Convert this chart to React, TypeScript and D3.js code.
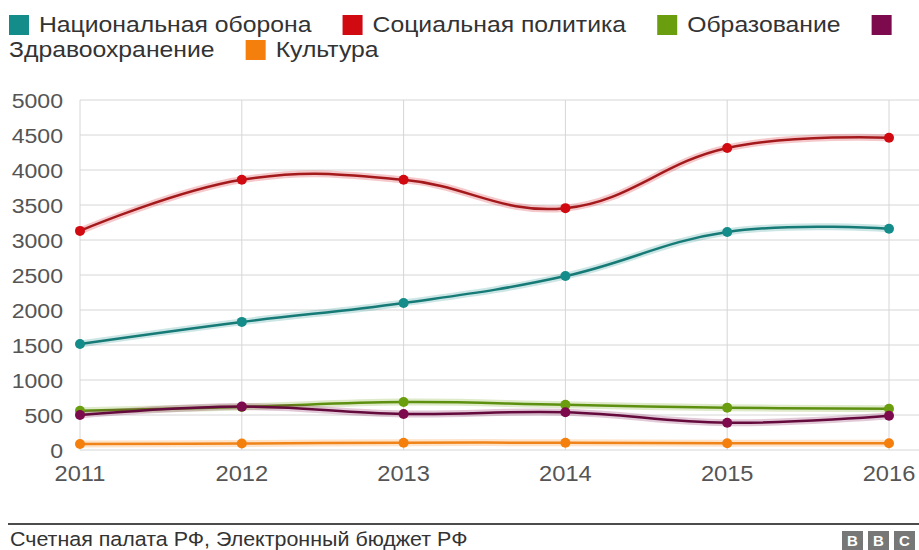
import React, { useEffect, useRef } from 'react';
import * as d3 from 'd3';

const years = ['2011', '2012', '2013', '2014', '2015', '2016'];
const defense = [1515, 1830, 2100, 2485, 3115, 3160];
const social = [3130, 3860, 3860, 3455, 4315, 4460];
const education = [560, 615, 685, 645, 605, 590];
const health = [500, 620, 515, 540, 390, 490];
const culture = [86, 93, 104, 104, 96, 96];
const yTicks = [0, 500, 1000, 1500, 2000, 2500, 3000, 3500, 4000, 4500, 5000];

const seriesNames = ['Национальная оборона', 'Социальная политика', 'Образование', 'Здравоохранение', 'Культура'];
const seriesColors = ['#148c89', '#d10a12', '#6a9e0f', '#7d0a4c', '#f57f0c'];
const lineColors = ['#167a77', '#a41a1c', '#5e9010', '#650a3c', '#f08418'];

const source = 'Счетная палата РФ, Электронный бюджет РФ';
const FONT = 'Arial, "Liberation Sans", Helvetica, sans-serif';
const SX = 1.1; // the original is a little stretched sideways

const App: React.FC = () => {
  const svgRef = useRef<SVGSVGElement>(null);

  useEffect(() => {
    if (!svgRef.current) return;
    document.body.style.margin = '0';
    const svg = d3.select(svgRef.current);
    svg.selectAll('*').remove();

    const width = 919;
    const left = 80;
    const right = 889;
    const top = 100;
    const bottom = 450;

    const x = d3.scalePoint<string>().domain(years).range([left, right]);
    const y = d3.scaleLinear().domain([0, 5000]).range([bottom, top]);

    // сетка
    const grid = svg.append('g');
    grid.selectAll('.hgrid')
      .data(yTicks)
      .enter()
      .append('line')
      .attr('x1', left)
      .attr('x2', width)
      .attr('y1', d => y(d))
      .attr('y2', d => y(d))
      .attr('stroke', '#d6d6d6')
      .attr('stroke-width', 1);
    grid.selectAll('.vgrid')
      .data(years)
      .enter()
      .append('line')
      .attr('x1', d => x(d)!)
      .attr('x2', d => x(d)!)
      .attr('y1', top)
      .attr('y2', bottom)
      .attr('stroke', '#d6d6d6')
      .attr('stroke-width', 1);

    // подписи осей
    svg.append('g').selectAll('text')
      .data(yTicks)
      .enter()
      .append('text')
      .attr('transform', d => `translate(63,${y(d)}) scale(${SX},1)`)
      .attr('dy', '0.36em')
      .attr('text-anchor', 'end')
      .style('font-family', FONT)
      .style('font-size', '21px')
      .style('fill', '#555')
      .text(d => d);

    svg.append('g').selectAll('text')
      .data(years)
      .enter()
      .append('text')
      .attr('transform', d => `translate(${x(d)},481) scale(${SX},1)`)
      .attr('text-anchor', 'middle')
      .style('font-family', FONT)
      .style('font-size', '21.5px')
      .style('fill', '#555')
      .text(d => d);

    // линии
    const allSeries = [defense, social, education, health, culture];
    const line = d3.line<number>()
      .x((_, i) => x(years[i])!)
      .y(d => y(d))
      .curve(d3.curveCardinal.tension(-0.2));

    const drawOrder = [4, 2, 3, 0, 1];
    drawOrder.forEach(si => {
      const values = allSeries[si];
      const g = svg.append('g');
      g.append('path')
        .attr('d', line(values))
        .attr('fill', 'none')
        .attr('stroke', seriesColors[si])
        .attr('stroke-opacity', 0.22)
        .attr('stroke-width', 7);
      g.append('path')
        .attr('d', line(values))
        .attr('fill', 'none')
        .attr('stroke', lineColors[si])
        .attr('stroke-width', 2.5);
      g.selectAll('circle')
        .data(values)
        .enter()
        .append('circle')
        .attr('cx', (_, i) => x(years[i])!)
        .attr('cy', d => y(d))
        .attr('r', 5)
        .attr('fill', seriesColors[si]);
    });

    // легенда (переносится как строка текста)
    const legend = svg.append('g');
    const sq = 20;
    const rowBase = [32, 57];
    let cx = 9;
    let row = 0;
    seriesNames.forEach((name, i) => {
      if (cx + sq > width) { cx = 9; row++; }
      legend.append('rect')
        .attr('x', cx)
        .attr('y', rowBase[row] - 17)
        .attr('width', sq)
        .attr('height', sq)
        .attr('fill', seriesColors[i]);
      cx += sq + 10;
      const t = legend.append('text')
        .style('font-family', FONT)
        .style('font-size', '22.5px')
        .style('fill', '#333')
        .text(name);
      const w = (t.node() as SVGTextElement).getComputedTextLength() * SX;
      if (cx + w > width) { cx = 9; row++; }
      t.attr('transform', `translate(${cx},${rowBase[row]}) scale(${SX},1)`);
      cx += w + 31;
    });

    // подвал
    svg.append('line')
      .attr('x1', 8)
      .attr('x2', width)
      .attr('y1', 524)
      .attr('y2', 524)
      .attr('stroke', '#111')
      .attr('stroke-width', 1.5);
    svg.append('text')
      .attr('transform', `translate(10,546) scale(${SX},1)`)
      .style('font-family', FONT)
      .style('font-size', '19.5px')
      .style('fill', '#333')
      .text(source);

    const logo = svg.append('g');
    ['B', 'B', 'C'].forEach((ch, i) => {
      const bx = 842 + i * 26;
      logo.append('rect')
        .attr('x', bx)
        .attr('y', 531)
        .attr('width', 21)
        .attr('height', 24)
        .attr('fill', '#777');
      logo.append('text')
        .attr('x', bx + 10.5)
        .attr('y', 546)
        .attr('text-anchor', 'middle')
        .style('font-family', FONT)
        .style('font-size', '15px')
        .style('font-weight', 'bold')
        .style('fill', '#fff')
        .text(ch);
    });
  }, []);

  return (
    <div style={{ width: 919, height: 550, background: '#fff' }}>
      <svg ref={svgRef} width={919} height={550} style={{ display: 'block' }} />
    </div>
  );
};

export default App;
